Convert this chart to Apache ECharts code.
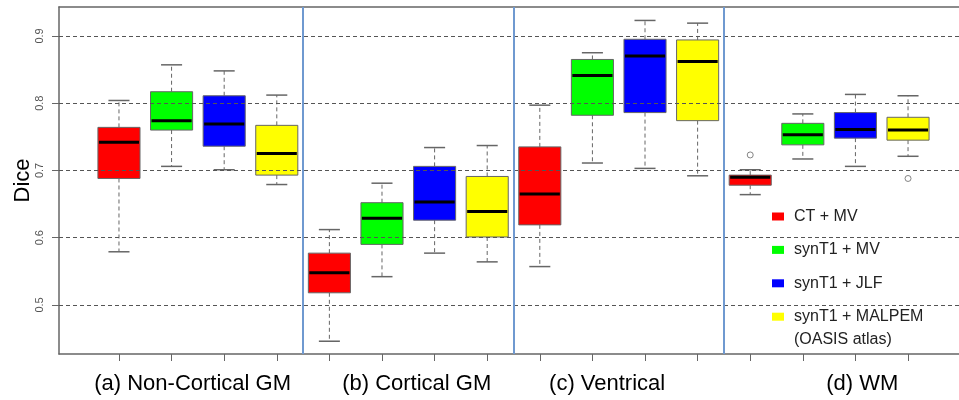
<!DOCTYPE html>
<html><head><meta charset="utf-8">
<script src="https://cdn.jsdelivr.net/npm/echarts@6/dist/echarts.min.js"></script>
<style>html,body{margin:0;padding:0;background:#fff}#c{width:959px;height:400px}</style>
</head><body><div id="c"></div>
<script>
// ---- data ----
const regions = ['(a) Non-Cortical GM', '(b) Cortical GM', '(c) Ventrical', '(d) WM'];
const regionLabelPos = [2.4, 6.66, 10.28, 15.13];
const methods = ['CT + MV', 'synT1 + MV', 'synT1 + JLF', 'synT1 + MALPEM'];
const methodNotes = ['', '', '', '(OASIS atlas)'];
const colors = ['#ff0000', '#00ff00', '#0000ff', '#ffff00'];
// [min, q1, median, q3, max] per region
const ctMV      = [[0.579,0.688,0.742,0.764,0.804],[0.446,0.518,0.548,0.577,0.612],[0.557,0.619,0.665,0.735,0.797],[0.664,0.678,0.690,0.693,0.701]];
const synMV     = [[0.706,0.760,0.774,0.817,0.857],[0.542,0.590,0.629,0.652,0.681],[0.711,0.782,0.841,0.865,0.875],[0.717,0.738,0.753,0.770,0.784]];
const synJLF    = [[0.701,0.736,0.769,0.811,0.848],[0.577,0.626,0.653,0.706,0.734],[0.703,0.786,0.870,0.895,0.923],[0.706,0.748,0.761,0.786,0.813]];
const synMALPEM = [[0.679,0.693,0.725,0.767,0.812],[0.564,0.601,0.639,0.691,0.737],[0.692,0.774,0.862,0.894,0.919],[0.721,0.745,0.760,0.779,0.811]];
// outliers: [methodIndex, regionIndex, value]
const outliers = [[0, 3, 0.723], [3, 3, 0.688]];
const yTicks = [0.5, 0.6, 0.7, 0.8, 0.9];

const allStats = [ctMV, synMV, synJLF, synMALPEM];
const nM = methods.length;
const pos = (r, m) => r * nM + m + 1;
const xTicks = [];
regions.forEach((_, r) => methods.forEach((_, m) => xTicks.push(pos(r, m))));
const separators = regions.slice(1).map((_, r) => (r + 1) * nM + 0.5);

const grey = '#666';
function renderBox(params, api) {
  const x = api.value(0);
  const mn = api.coord([x, api.value(1)]);
  const q1 = api.coord([x, api.value(2)]);
  const md = api.coord([x, api.value(3)]);
  const q3 = api.coord([x, api.value(4)]);
  const mx = api.coord([x, api.value(5)]);
  const w = api.size([0.8, 0])[0];
  const cx = mn[0];
  const color = api.visual('color');
  const dash = {stroke: grey, lineWidth: 1, lineDash: [4, 3]};
  const cap = {stroke: grey, lineWidth: 1.5};
  return {type: 'group', children: [
    {type: 'line', shape: {x1: cx, y1: q3[1], x2: cx, y2: mx[1]}, style: dash},
    {type: 'line', shape: {x1: cx, y1: q1[1], x2: cx, y2: mn[1]}, style: dash},
    {type: 'line', shape: {x1: cx - w / 4, y1: mx[1], x2: cx + w / 4, y2: mx[1]}, style: cap},
    {type: 'line', shape: {x1: cx - w / 4, y1: mn[1], x2: cx + w / 4, y2: mn[1]}, style: cap},
    {type: 'rect', shape: {x: cx - w / 2, y: q3[1], width: w, height: q1[1] - q3[1]}, style: {fill: color, stroke: grey, lineWidth: 1}},
    {type: 'line', shape: {x1: cx - w / 2 + 1, y1: md[1], x2: cx + w / 2 - 1, y2: md[1]}, style: {stroke: '#000', lineWidth: 3}}
  ]};
}

const series = methods.map((name, m) => ({
  name: name,
  type: 'custom',
  renderItem: renderBox,
  itemStyle: {color: colors[m]},
  encode: {x: 0, y: [1, 2, 3, 4, 5]},
  data: allStats[m].map((d, r) => [pos(r, m)].concat(d)),
  z: 2
}));
series.push({
  name: 'outliers',
  type: 'scatter',
  symbol: 'circle',
  symbolSize: 6,
  itemStyle: {color: '#fff', borderColor: grey, borderWidth: 1},
  data: outliers.map(o => [pos(o[1], o[0]), o[2]]),
  z: 3
});
series.push({
  name: 'lines',
  type: 'line',
  data: [],
  markLine: {
    silent: true, symbol: 'none', label: {show: false}, animation: false,
    data: yTicks.map(v => ({yAxis: v, lineStyle: {color: '#555', width: 1, type: [4, 3]}}))
      .concat(separators.map(v => ({xAxis: v, lineStyle: {color: '#6f99d0', width: 2, type: 'solid'}})))
  }
});

const font = 'Liberation Sans, Arial, sans-serif';
const legendLeft = 772, legendTop = 205, legendIconW = 12, legendLine = 23, legendGap = 10.4;
const noteGraphics = [];
methodNotes.forEach((note, i) => {
  if (!note) return;
  noteGraphics.push({
    type: 'text',
    x: legendLeft + legendIconW + 10,
    y: legendTop + i * (legendLine + legendGap) + legendLine / 2 + legendLine,
    style: {text: note, fontSize: 16, fontFamily: font, fill: '#222', verticalAlign: 'middle', align: 'left'}
  });
});

const chart = echarts.init(document.getElementById('c'));
chart.setOption({
  animation: false,
  backgroundColor: '#fff',
  textStyle: {fontFamily: font},
  grid: {left: 59, top: 7, right: -9, bottom: 46, containLabel: false, outerBoundsMode: 'none'},
  legend: {
    orient: 'vertical', left: legendLeft, top: legendTop, padding: 0,
    itemWidth: legendIconW, itemHeight: 8, itemGap: legendGap, icon: 'rect',
    itemStyle: {borderWidth: 0},
    textStyle: {fontSize: 16, color: '#222', lineHeight: legendLine, padding: [0, 0, 0, 5], fontFamily: font},
    data: methods
  },
  graphic: noteGraphics,
  xAxis: [{
    type: 'value', min: -0.14, max: 17.14, position: 'bottom',
    axisLine: {show: true, onZero: false, lineStyle: {color: grey, width: 1.5}},
    axisTick: {show: true, customValues: xTicks, length: 7, lineStyle: {color: grey}},
    axisLabel: {
      customValues: regionLabelPos, fontSize: 22, color: '#000', margin: 19, fontFamily: font,
      formatter: v => { const i = regionLabelPos.findIndex(p => Math.abs(p - v) < 1e-6); return i >= 0 ? regions[i] : ''; }
    },
    splitLine: {show: false}
  }, {
    type: 'value', min: -0.14, max: 17.14, position: 'top',
    axisLine: {show: true, onZero: false, lineStyle: {color: grey, width: 1.5}},
    axisTick: {show: false}, axisLabel: {show: false}, splitLine: {show: false}
  }],
  yAxis: {
    type: 'value', min: 0.427, max: 0.943,
    name: 'Dice', nameLocation: 'middle', nameRotate: 90, nameGap: 25, nameMoveOverlap: false,
    nameTextStyle: {fontSize: 22, color: '#000', fontFamily: font},
    axisLine: {show: true, onZero: false, lineStyle: {color: grey, width: 1.5}},
    axisTick: {show: true, customValues: yTicks, length: 7, lineStyle: {color: grey}},
    axisLabel: {customValues: yTicks, rotate: 90, fontSize: 11, color: '#555', margin: 14, fontFamily: font,
      formatter: v => String(v)},
    splitLine: {show: false}
  },
  series: series
});
</script></body></html>
